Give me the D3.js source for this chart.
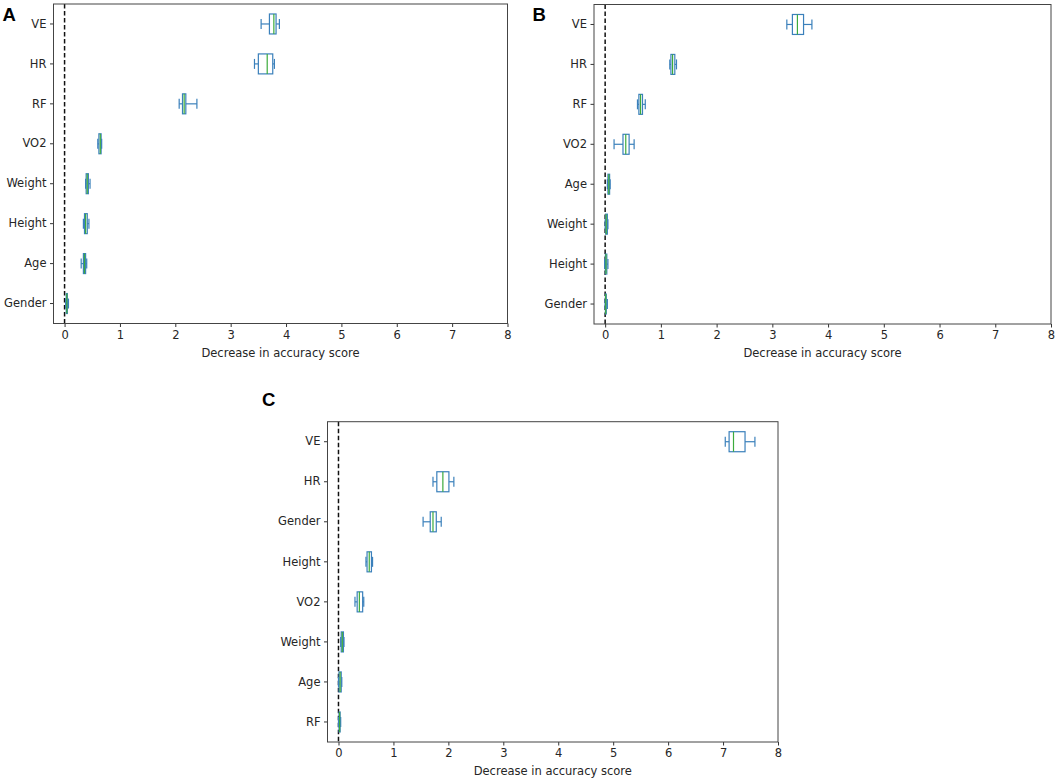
<!DOCTYPE html>
<html>
<head>
<meta charset="utf-8">
<script src="https://cdn.jsdelivr.net/npm/d3@7"></script>
<style>
  body { margin: 0; background: #fff; }
  svg { display: block; }
  .tick text { font-family: "DejaVu Sans", sans-serif; font-size: 11.5px; fill: #262626; }
</style>
</head>
<body>
<svg id="canvas" width="1056" height="780"></svg>
<script>
// feature order, top row first
let featuresA = ['VE', 'HR', 'RF', 'VO2', 'Weight', 'Height', 'Age', 'Gender']
let featuresB = ['VE', 'HR', 'RF', 'VO2', 'Age', 'Weight', 'Height', 'Gender']
let featuresC = ['VE', 'HR', 'Gender', 'Height', 'VO2', 'Weight', 'Age', 'RF']

// [whisker low, q1, median, q3, whisker high] per feature
let statsA = [
  [3.55, 3.70, 3.78, 3.82, 3.88],
  [3.43, 3.50, 3.66, 3.76, 3.79],
  [2.07, 2.13, 2.16, 2.19, 2.39],
  [0.60, 0.62, 0.645, 0.66, 0.67],
  [0.38, 0.39, 0.41, 0.43, 0.46],
  [0.34, 0.36, 0.38, 0.41, 0.44],
  [0.30, 0.34, 0.36, 0.38, 0.40],
  [0.02, 0.03, 0.04, 0.05, 0.07]
]
let statsB = [
  [3.26, 3.36, 3.45, 3.56, 3.71],
  [1.16, 1.18, 1.21, 1.25, 1.28],
  [0.58, 0.605, 0.635, 0.67, 0.72],
  [0.16, 0.32, 0.37, 0.43, 0.52],
  [0.04, 0.05, 0.065, 0.08, 0.09],
  [0.00, 0.01, 0.02, 0.04, 0.05],
  [-0.01, 0.005, 0.015, 0.03, 0.05],
  [0.00, 0.005, 0.01, 0.02, 0.04]
]
let statsC = [
  [7.04, 7.11, 7.19, 7.40, 7.58],
  [1.72, 1.79, 1.90, 2.01, 2.10],
  [1.54, 1.67, 1.72, 1.78, 1.87],
  [0.50, 0.52, 0.56, 0.60, 0.62],
  [0.30, 0.34, 0.38, 0.44, 0.46],
  [0.04, 0.05, 0.07, 0.09, 0.10],
  [0.00, 0.01, 0.03, 0.05, 0.06],
  [0.00, 0.01, 0.02, 0.03, 0.04]
]

let xTicks = [0, 1, 2, 3, 4, 5, 6, 7, 8]
let xTitle = 'Decrease in accuracy score'

let svg = d3.select('#canvas')

let boxColor = '#3b80bb'
let medianColor = '#3cab3c'

let drawPanel = (letter, features, stats, frame, letterPos) => {
    let x = d3.scaleLinear().domain([-0.2, 8]).range([frame.x0, frame.x1])
    let y = d3.scaleBand().domain(features).range([frame.y0, frame.y1])
    let bw = y.bandwidth()
    let boxH = bw * 0.5
    let capH = boxH * 0.5

    let g = svg.append('g')

    // x axis
    let xAxis = g.append('g')
        .attr('transform', 'translate(0,' + frame.y1 + ')')
        .call(d3.axisBottom(x).tickValues(xTicks).tickFormat(d3.format('d')).tickSize(3.5).tickPadding(3.5))
    xAxis.select('.domain').remove()
    xAxis.selectAll('line').attr('stroke', '#333')

    let yAxis = g.append('g')
        .attr('transform', 'translate(' + frame.x0 + ',0)')
        .call(d3.axisLeft(y).tickSize(3.5).tickPadding(3.5))
    yAxis.select('.domain').remove()
    yAxis.selectAll('line').attr('stroke', '#333')

    g.append('text')
        .attr('x', (frame.x0 + frame.x1) / 2)
        .attr('y', frame.y1 + 33)
        .attr('text-anchor', 'middle')
        .style('font-family', 'DejaVu Sans, sans-serif')
        .style('font-size', '11.5px')
        .style('fill', '#262626')
        .text(xTitle)

    // zero reference line
    g.append('line')
        .attr('x1', x(0)).attr('x2', x(0))
        .attr('y1', frame.y0).attr('y2', frame.y1)
        .attr('stroke', '#111')
        .attr('stroke-width', 1.5)
        .attr('stroke-dasharray', '4.5,2.5')

    let rows = g.selectAll('g.box')
        .data(features.map((f, i) => ({name: f, s: stats[i]})))
        .enter()
        .append('g')
        .attr('class', 'box')
        .attr('transform', (d) => 'translate(0,' + (y(d.name) + bw / 2) + ')')

    // whiskers
    rows.append('line')
        .attr('x1', (d) => x(d.s[0])).attr('x2', (d) => x(d.s[1]))
        .attr('stroke', boxColor).attr('stroke-width', 1.2)
    rows.append('line')
        .attr('x1', (d) => x(d.s[3])).attr('x2', (d) => x(d.s[4]))
        .attr('stroke', boxColor).attr('stroke-width', 1.2)
    // caps
    rows.append('line')
        .attr('x1', (d) => x(d.s[0])).attr('x2', (d) => x(d.s[0]))
        .attr('y1', -capH / 2).attr('y2', capH / 2)
        .attr('stroke', boxColor).attr('stroke-width', 1.2)
    rows.append('line')
        .attr('x1', (d) => x(d.s[4])).attr('x2', (d) => x(d.s[4]))
        .attr('y1', -capH / 2).attr('y2', capH / 2)
        .attr('stroke', boxColor).attr('stroke-width', 1.2)
    // box
    rows.append('rect')
        .attr('x', (d) => x(d.s[1]))
        .attr('y', -boxH / 2)
        .attr('width', (d) => x(d.s[3]) - x(d.s[1]))
        .attr('height', boxH)
        .attr('fill', 'none')
        .attr('stroke', boxColor).attr('stroke-width', 1.2)
    // median
    rows.append('line')
        .attr('x1', (d) => x(d.s[2])).attr('x2', (d) => x(d.s[2]))
        .attr('y1', -boxH / 2).attr('y2', boxH / 2)
        .attr('stroke', medianColor).attr('stroke-width', 1.2)

    // frame
    g.append('rect')
        .attr('x', frame.x0).attr('y', frame.y0)
        .attr('width', frame.x1 - frame.x0)
        .attr('height', frame.y1 - frame.y0)
        .attr('fill', 'none')
        .attr('stroke', '#444')
        .attr('stroke-width', 1)

    svg.append('text')
        .attr('x', letterPos[0]).attr('y', letterPos[1])
        .style('font-family', 'Liberation Sans, Arial, sans-serif')
        .style('font-weight', 'bold')
        .style('font-size', '18.5px')
        .style('fill', '#000')
        .text(letter)
}

drawPanel('A', featuresA, statsA, {x0: 53.5, x1: 507.5, y0: 4, y1: 323.5}, [2.5, 20.7])
drawPanel('B', featuresB, statsB, {x0: 594, x1: 1051, y0: 4.5, y1: 324}, [532.5, 20.7])
drawPanel('C', featuresC, statsC, {x0: 327.5, x1: 778, y0: 421.7, y1: 742}, [262, 406])
</script>
</body>
</html>
